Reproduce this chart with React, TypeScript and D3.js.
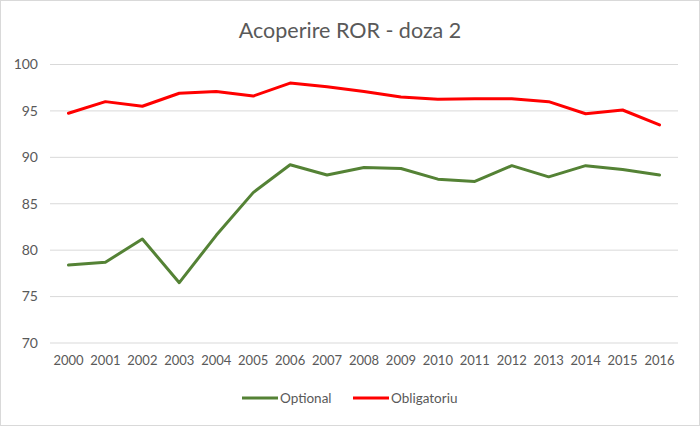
import { useEffect, useRef } from "react";
import * as d3 from "d3";

const years = [
  "2000", "2001", "2002", "2003", "2004", "2005", "2006", "2007", "2008",
  "2009", "2010", "2011", "2012", "2013", "2014", "2015", "2016",
];
const optional = [
  78.4, 78.7, 81.2, 76.5, 81.6, 86.2, 89.2, 88.1, 88.9, 88.8, 87.65, 87.4,
  89.1, 87.9, 89.1, 88.7, 88.1,
];
const obligatoriu = [
  94.75, 96.0, 95.5, 96.9, 97.1, 96.6, 98.0, 97.6, 97.1, 96.5, 96.25, 96.3,
  96.3, 96.0, 94.7, 95.1, 93.5,
];
const yTicks = [70, 75, 80, 85, 90, 95, 100];

const series = [
  { name: "Optional", values: optional, color: "#548235" },
  { name: "Obligatoriu", values: obligatoriu, color: "#ff0000" },
];

export default function App() {
  const svgRef = useRef<SVGSVGElement>(null);
  const width = 700;
  const height = 426;

  useEffect(() => {
    if (!svgRef.current) return;
    const svg = d3.select(svgRef.current);
    svg.selectAll("*").remove();

    const margin = { top: 64.5, right: 22, bottom: 83, left: 50 };
    const innerWidth = width - margin.left - margin.right;
    const innerHeight = height - margin.top - margin.bottom;
    const textColor = "#595959";
    const font = "Lato, 'Open Sans', sans-serif";

    // chart area border
    svg
      .append("rect")
      .attr("x", 0.5)
      .attr("y", 0.5)
      .attr("width", width - 1)
      .attr("height", height - 1)
      .attr("fill", "#fff")
      .attr("stroke", "#d9d9d9");

    svg
      .append("text")
      .attr("x", width / 2)
      .attr("y", 38)
      .attr("text-anchor", "middle")
      .attr("font-family", font)
      .attr("font-size", 21.5)
      .attr("fill", textColor)
      .text("Acoperire ROR - doza 2");

    const xScale = d3
      .scaleBand()
      .domain(years)
      .range([0, innerWidth]);
    const yScale = d3.scaleLinear().domain([70, 100]).range([innerHeight, 0]);

    const g = svg
      .append("g")
      .attr("transform", `translate(${margin.left},${margin.top})`);

    // grid
    g.append("g")
      .selectAll("line")
      .data(yTicks)
      .enter()
      .append("line")
      .attr("x1", 0)
      .attr("x2", innerWidth)
      .attr("y1", (d) => yScale(d))
      .attr("y2", (d) => yScale(d))
      .attr("stroke", "#d9d9d9")
      .attr("stroke-width", 1);

    // y labels
    g.append("g")
      .selectAll("text")
      .data(yTicks)
      .enter()
      .append("text")
      .attr("x", -12)
      .attr("y", (d) => yScale(d))
      .attr("dy", "0.35em")
      .attr("text-anchor", "end")
      .attr("font-family", font)
      .attr("font-size", 14)
      .attr("fill", textColor)
      .text((d) => d);

    // x labels
    g.append("g")
      .selectAll("text")
      .data(years)
      .enter()
      .append("text")
      .attr("x", (d) => (xScale(d) || 0) + xScale.bandwidth() / 2)
      .attr("y", innerHeight + 22)
      .attr("text-anchor", "middle")
      .attr("font-family", font)
      .attr("font-size", 13)
      .attr("fill", textColor)
      .text((d) => d);

    const line = d3
      .line<number>()
      .x((_, i) => (xScale(years[i]) || 0) + xScale.bandwidth() / 2)
      .y((d) => yScale(d));

    series.forEach((s) => {
      g.append("path")
        .datum(s.values)
        .attr("fill", "none")
        .attr("stroke", s.color)
        .attr("stroke-width", 3)
        .attr("stroke-linejoin", "round")
        .attr("stroke-linecap", "round")
        .attr("d", line);
    });

    // legend
    const legendX = [242, 353];
    series.forEach((s, i) => {
      const lg = svg
        .append("g")
        .attr("transform", `translate(${legendX[i]},398)`);
      lg.append("line")
        .attr("x1", 0)
        .attr("x2", 36)
        .attr("y1", 0)
        .attr("y2", 0)
        .attr("stroke", s.color)
        .attr("stroke-width", 3);
      lg.append("text")
        .attr("x", 38)
        .attr("y", 0)
        .attr("dy", "0.35em")
        .attr("font-family", font)
        .attr("font-size", 13.5)
        .attr("fill", textColor)
        .text(s.name);
    });
  }, []);

  return (
    <div style={{ position: "absolute", left: 0, top: 0 }}>
      <svg ref={svgRef} width={width} height={height} style={{ display: "block" }} />
    </div>
  );
}
